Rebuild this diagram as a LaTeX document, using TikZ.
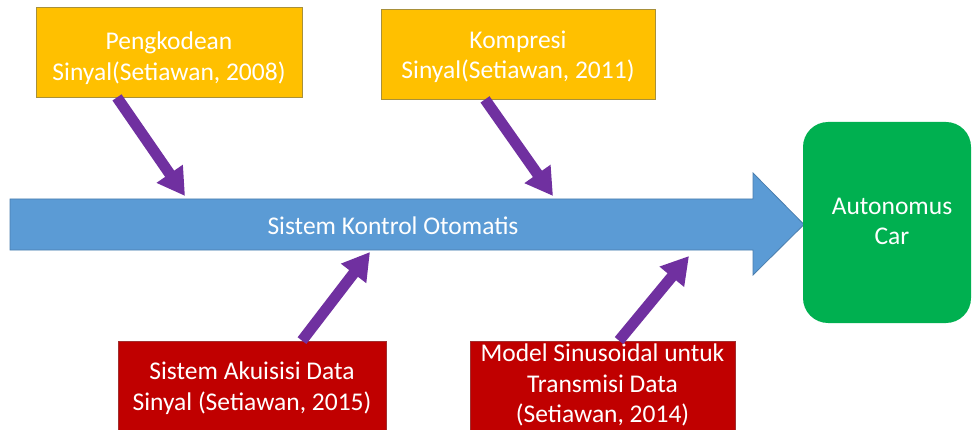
\documentclass[tikz,border=0pt]{standalone}
\usepackage{fontspec}
\setmainfont{Carlito}
\usetikzlibrary{arrows.meta}

\definecolor{boxyellow}{HTML}{FFC000}
\definecolor{boxyellowline}{HTML}{A8903A}
\definecolor{boxred}{HTML}{C00000}
\definecolor{boxredline}{HTML}{A03030}
\definecolor{spineblue}{HTML}{5B9BD5}
\definecolor{spineline}{HTML}{4A7EAE}
\definecolor{cargreen}{HTML}{00B050}
\definecolor{arrowpurple}{HTML}{7030A0}

\tikzset{
  txt/.style={font=\fontsize{25.5}{30.5}\selectfont, text=white, align=center},
  causebox/.style={txt, rectangle, line width=0.8pt, inner sep=0pt},
  topbox/.style={causebox, fill=boxyellow, draw=boxyellowline, minimum height=90pt},
  lowbox/.style={causebox, fill=boxred, draw=boxredline, minimum height=94pt},
  goalbox/.style={txt, fill=cargreen, rounded corners=25pt, minimum width=168pt, minimum height=201pt},
  feed/.style={draw=arrowpurple, line width=11pt, -{Triangle[length=27pt,width=30pt]}},
}

\begin{document}
\begin{tikzpicture}[x=1pt, y=1pt]
  \useasboundingbox (0,0) rectangle (972,429);
  \clip (0,0) rectangle (972,429);
  \fill[white] (0,0) rectangle (972,429);

  % main spine arrow
  \filldraw[fill=spineblue, draw=spineline, line width=0.8pt]
    (10,179) -- (753,179) -- (753,154) -- (804,204.5) -- (753,256)
    -- (753,230) -- (10,230) -- cycle;
  \node[txt] (spine) at (393,203) {Sistem Kontrol Otomatis};

  % points where the cause arrows meet the spine
  \coordinate (t1) at (185,233);
  \coordinate (t2) at (553,233);
  \coordinate (t3) at (370,177);
  \coordinate (t4) at (689,173);

  % upper cause boxes, their text sits a little low
  \node[topbox, minimum width=266pt] (p1) at (169,377) {};
  \node[txt] (p1text) at ([yshift=-6pt]p1.center) {Pengkodean\\Sinyal(Setiawan, 2008)};
  \node[topbox, minimum width=274pt] (p2) at (518,375) {};
  \node[txt] (p2text) at ([yshift=-3pt]p2.center) {Kompresi\\Sinyal(Setiawan, 2011)};

  % lower cause boxes
  \node[lowbox, minimum width=268pt] (r1) at (252,41) {Sistem Akuisisi Data\\Sinyal (Setiawan, 2015)};
  \node[lowbox, minimum width=265pt] (r2) at (602.5,41) {};
  \node[txt] (r2text) at ([yshift=3pt]r2.center) {Model Sinusoidal untuk\\Transmisi Data\\(Setiawan, 2014)};

  % effect
  \node[goalbox] (car) at (887,206.5) {};
  \node[txt] (cartext) at ([xshift=5pt,yshift=1pt]car.center) {Autonomus\\Car};

  % cause arrows
  \draw[feed] ([xshift=-52pt]p1.south) -- (t1);
  \draw[feed] ([xshift=-33pt]p2.south) -- (t2);
  \draw[feed] ([xshift=50pt]r1.north) -- (t3);
  \draw[feed] ([xshift=16.5pt]r2.north) -- (t4);
\end{tikzpicture}
\end{document}
